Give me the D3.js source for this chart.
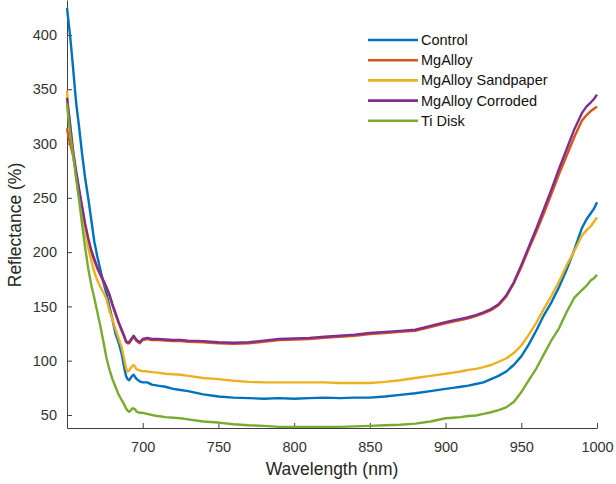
<!DOCTYPE html>
<html>
<head>
<meta charset="utf-8">
<script src="https://cdn.jsdelivr.net/npm/d3@7"></script>
<style>
  body { margin: 0; background: #fff; }
  text { font-family: "Liberation Sans", Arial, sans-serif; }
</style>
</head>
<body>
<div id="chart"></div>
<script>
// wavelength grid (nm)
var wavelengths = [650, 651, 652, 654, 656, 658, 660, 662, 664, 666, 668, 670, 672, 674, 676, 678, 680, 682, 684, 686,
  688, 689, 690, 691, 692, 693, 694, 695, 696, 698, 700, 703, 706, 710, 715, 720, 725, 730, 740, 750,
  760, 770, 780, 790, 800, 810, 820, 830, 840, 850, 860, 870, 880, 890, 900, 905, 910, 915, 920, 925,
  930, 935, 940, 945, 950, 955, 960, 965, 970, 975, 980, 985, 990, 993, 996, 998, 1000];

var seriesNames = ["Control", "MgAlloy", "MgAlloy Sandpaper", "MgAlloy Corroded", "Ti Disk"];
var seriesColors = ["#0072bd", "#d95319", "#edb120", "#7e2f8e", "#77ac30"];

var control = [425, 412, 400, 370, 338, 315, 290, 268, 250, 230, 210, 196, 184, 172, 162, 150, 138, 125, 117, 107,
  92, 86, 83, 82, 84, 86, 87, 85, 83, 81, 80, 80, 78, 77, 76, 74, 73, 72, 69, 67,
  66, 65.5, 65, 65.5, 65, 65.5, 66, 65.5, 66, 66, 67, 68.5, 70, 72, 74, 75, 76, 77, 78.5, 80,
  83, 86, 90, 96, 104, 115, 128, 142, 154, 168, 184, 202, 222, 230, 236, 240, 246];

var mgAlloy = [314, 306, 300, 289, 273, 256, 240, 224, 211, 200, 192, 185, 179, 173, 167, 160, 151, 143, 135, 128,
  121, 117, 116, 116, 118, 120, 122, 120, 118, 116, 119, 120, 119, 119, 118.5, 118, 118, 117.5, 117, 116,
  115.5, 116, 117.5, 119, 119.5, 120, 121, 122, 123, 124.5, 125.5, 126.5, 127.5, 131, 134.5, 136, 137.5, 139, 141, 143.5,
  146.5, 151, 159, 171, 186, 203, 219, 236, 254, 272, 289, 306, 321, 326, 330, 332, 334];

var sandpaper = [349, 330, 318, 292, 270, 250, 235, 220, 204, 192, 182, 174, 168, 163, 157, 146, 138, 129, 121, 113,
  100, 93, 90, 91, 93, 95, 96, 94, 92, 91, 90.5, 90, 89.5, 89, 88, 87.5, 87, 86, 84, 83,
  81.5, 80.5, 80, 80, 80, 80, 80, 79.5, 79.5, 79.5, 80.5, 82, 84, 86, 88, 89, 90, 91.5, 92.5, 94,
  96, 99, 102, 107, 114, 124, 135, 148, 160, 173, 188, 201, 215, 220, 224, 228, 232];

var corroded = [342, 330, 318, 294, 275, 258, 242, 226, 213, 202, 194, 186, 180, 174, 168, 161, 152, 144, 136, 129,
  122, 118, 117, 117, 119, 121, 123, 121, 119, 117, 120, 121, 120, 120, 119.5, 119, 119, 118.5, 118, 117,
  116.5, 117, 118.5, 120, 120.5, 121, 122, 123, 124, 125.5, 126.5, 127.5, 128.5, 132, 135.5, 137, 138.5, 140, 142, 144.5,
  147.5, 152, 160, 172, 188, 205, 222, 240, 258, 277, 295, 313, 328, 334, 338, 341, 345];

var tiDisk = [337, 322, 310, 290, 268, 248, 225, 204, 185, 170, 158, 145, 132, 118, 103, 92, 83, 76, 69, 64,
  59, 56, 54, 53, 54, 56, 56, 55, 53, 52, 52, 51, 50, 49, 48, 47.5, 47, 46, 44, 43,
  41.5, 40.5, 40, 39, 39, 39, 39, 39, 39.5, 40, 40.5, 41, 42, 44, 47, 47.5, 48, 49, 49.5, 51,
  52.5, 54.5, 57, 62, 71, 82, 93, 106, 119, 130, 145, 158, 165, 169, 174, 176, 179];

var xTicks = [700, 750, 800, 850, 900, 950, 1000];
var yTicks = [50, 100, 150, 200, 250, 300, 350, 400];

var allSeries = [control, mgAlloy, sandpaper, corroded, tiDisk];

var W = 616, H = 484;
var margin = {top: 0, left: 67, right: 19, bottom: 56};
var width = W - margin.left - margin.right,
  height = H - margin.top - margin.bottom;

var svg = d3.select("#chart").append("svg")
  .attr("width", W).attr("height", H)
  .append("g")
  .attr("transform", "translate(" + margin.left + "," + margin.top + ")");

var x = d3.scaleLinear().domain([650, 1000]).range([0, width]);
var y = d3.scaleLinear().domain([38, 432.2]).range([height, 0]);

var axisColor = "#404040";

// x axis, ticks pointing in
var gx = svg.append("g")
  .attr("transform", "translate(0," + height + ")")
  .call(d3.axisBottom(x).tickValues(xTicks).tickFormat(d3.format("d"))
    .tickSizeInner(-5).tickSizeOuter(0).tickPadding(14));
// y axis
var gy = svg.append("g")
  .call(d3.axisLeft(y).tickValues(yTicks).tickFormat(d3.format("d"))
    .tickSizeInner(-5).tickSizeOuter(0).tickPadding(10));

[gx, gy].forEach(function (g) {
  g.select(".domain").attr("stroke", axisColor).attr("stroke-width", 1);
  g.selectAll(".tick line").attr("stroke", axisColor);
  g.selectAll(".tick text").attr("fill", "#333").style("font-size", "14.5px");
});

// lines
var line = d3.line()
  .x(function (d, i) { return x(wavelengths[i]); })
  .y(function (d) { return y(d); });

allSeries.forEach(function (s, k) {
  svg.append("path")
    .datum(s)
    .attr("fill", "none")
    .attr("stroke", seriesColors[k])
    .attr("stroke-width", 2.4)
    .attr("stroke-linejoin", "round")
    .attr("d", line);
});

// axis labels
svg.append("text")
  .attr("x", width / 2).attr("y", 475)
  .attr("text-anchor", "middle")
  .attr("fill", "#262626")
  .style("font-size", "17.5px")
  .text("Wavelength (nm)");

svg.append("text")
  .attr("transform", "translate(" + (-46) + "," + 225 + ") rotate(-90)")
  .attr("text-anchor", "middle")
  .attr("fill", "#262626")
  .style("font-size", "17.5px")
  .text("Reflectance (%)");

// legend
var legend = svg.append("g").attr("transform", "translate(" + (368 - margin.left) + ",40)");
seriesNames.forEach(function (name, k) {
  var row = legend.append("g").attr("transform", "translate(0," + (k * 20.2) + ")");
  row.append("line")
    .attr("x1", 0).attr("x2", 50)
    .attr("stroke", seriesColors[k]).attr("stroke-width", 2.6);
  row.append("text")
    .attr("x", 53).attr("dy", "0.35em")
    .attr("fill", "#111")
    .style("font-size", "14.5px")
    .text(name);
});
</script>
</body>
</html>
